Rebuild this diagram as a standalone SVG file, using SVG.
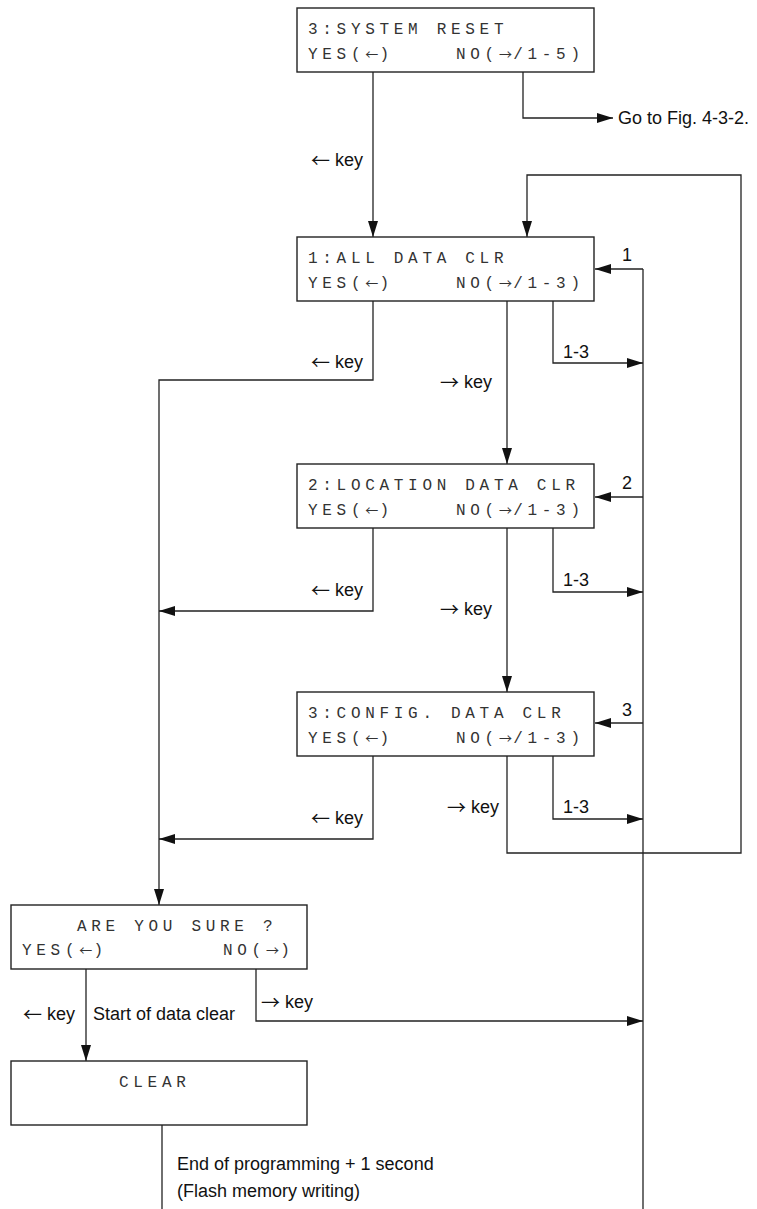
<svg xmlns="http://www.w3.org/2000/svg" width="757" height="1209" viewBox="0 0 757 1209">
<style>
.box{fill:#fff;stroke:#222;stroke-width:1.4}
.mono{font-family:"Liberation Mono","DejaVu Sans Mono",monospace;font-size:16px;letter-spacing:4.7px;fill:#333}
.ma{font-family:"Noto Sans CJK JP","DejaVu Sans Mono",monospace;font-size:13px;letter-spacing:1.3px}
.lbl{font-family:"Liberation Sans",Arial,sans-serif;font-size:18px;fill:#111}
.la{font-family:"Noto Sans CJK JP","DejaVu Sans",sans-serif;font-size:19px}
.ln{fill:none;stroke:#222;stroke-width:1.3}
.ar{marker-end:url(#ah)}
</style>
<defs>
<marker id="ah" markerUnits="userSpaceOnUse" markerWidth="16" markerHeight="10" refX="16" refY="5" orient="auto">
<path d="M0,0 L16,5 L0,10 z" fill="#111"/>
</marker>
</defs>
<rect width="757" height="1209" fill="#fff"/>

<g id="connectors">
<path class="ln ar" d="M373,72 V237"/>
<path class="ln ar" d="M523,72 V118 H613"/>
<path class="ln ar" d="M507,756 V853 H741 V175 H527 V237"/>
<path class="ln" d="M643,269 V1209"/>
<path class="ln ar" d="M643,269 H595"/>
<path class="ln ar" d="M643,497 H595"/>
<path class="ln ar" d="M643,723 H595"/>
<path class="ln ar" d="M553,301 V363 H643"/>
<path class="ln ar" d="M553,528 V592 H643"/>
<path class="ln ar" d="M553,756 V819 H643"/>
<path class="ln ar" d="M507,301 V464"/>
<path class="ln ar" d="M507,528 V692"/>
<path class="ln ar" d="M373,301 V380 H159 V905"/>
<path class="ln ar" d="M373,528 V611 H159"/>
<path class="ln ar" d="M373,756 V839 H159"/>
<path class="ln ar" d="M86,969 V1061"/>
<path class="ln ar" d="M256,969 V1021 H643"/>
<path class="ln" d="M162,1125 V1209"/>
</g>

<g id="labels">
<text class="lbl" x="363" y="166" text-anchor="end"><tspan class="la" dy="2">←</tspan><tspan dy="-2"> key</tspan></text>
<text class="lbl" x="618" y="124">Go to Fig. 4-3-2.</text>
<text class="lbl" x="622" y="261">1</text>
<text class="lbl" x="622" y="489">2</text>
<text class="lbl" x="622" y="716">3</text>
<text class="lbl" x="563" y="358">1-3</text>
<text class="lbl" x="563" y="586">1-3</text>
<text class="lbl" x="563" y="813">1-3</text>
<text class="lbl" x="363" y="368" text-anchor="end"><tspan class="la" dy="2">←</tspan><tspan dy="-2"> key</tspan></text>
<text class="lbl" x="363" y="596" text-anchor="end"><tspan class="la" dy="2">←</tspan><tspan dy="-2"> key</tspan></text>
<text class="lbl" x="363" y="824" text-anchor="end"><tspan class="la" dy="2">←</tspan><tspan dy="-2"> key</tspan></text>
<text class="lbl" x="440" y="388"><tspan class="la" dy="2">→</tspan><tspan dy="-2"> key</tspan></text>
<text class="lbl" x="440" y="615"><tspan class="la" dy="2">→</tspan><tspan dy="-2"> key</tspan></text>
<text class="lbl" x="447" y="813"><tspan class="la" dy="2">→</tspan><tspan dy="-2"> key</tspan></text>
<text class="lbl" x="23" y="1020"><tspan class="la" dy="2">←</tspan><tspan dy="-2"> key</tspan></text>
<text class="lbl" x="93" y="1020">Start of data clear</text>
<text class="lbl" x="261" y="1008"><tspan class="la" dy="2">→</tspan><tspan dy="-2"> key</tspan></text>
<text class="lbl" x="177" y="1170">End of programming + 1 second</text>
<text class="lbl" x="177" y="1197">(Flash memory writing)</text>
</g>

<g id="node-system-reset">
<rect class="box" x="297" y="8" width="297" height="64"/>
<text class="mono" x="308" y="34">3:SYSTEM RESET</text>
<text class="mono" x="308" y="59">YES(<tspan class="ma">←</tspan>)</text>
<text class="mono" x="456" y="59">NO(<tspan class="ma">→</tspan>/1-5)</text>
</g>

<g id="node-all-data-clr">
<rect class="box" x="297" y="237" width="297" height="64"/>
<text class="mono" x="308" y="263">1:ALL DATA CLR</text>
<text class="mono" x="308" y="288">YES(<tspan class="ma">←</tspan>)</text>
<text class="mono" x="456" y="288">NO(<tspan class="ma">→</tspan>/1-3)</text>
</g>

<g id="node-location-data-clr">
<rect class="box" x="297" y="464" width="297" height="64"/>
<text class="mono" x="308" y="490">2:LOCATION DATA CLR</text>
<text class="mono" x="308" y="515">YES(<tspan class="ma">←</tspan>)</text>
<text class="mono" x="456" y="515">NO(<tspan class="ma">→</tspan>/1-3)</text>
</g>

<g id="node-config-data-clr">
<rect class="box" x="297" y="692" width="297" height="64"/>
<text class="mono" x="308" y="718">3:CONFIG. DATA CLR</text>
<text class="mono" x="308" y="743">YES(<tspan class="ma">←</tspan>)</text>
<text class="mono" x="456" y="743">NO(<tspan class="ma">→</tspan>/1-3)</text>
</g>

<g id="node-are-you-sure">
<rect class="box" x="11" y="905" width="296" height="64"/>
<text class="mono" x="77" y="931">ARE YOU SURE ?</text>
<text class="mono" x="22" y="955">YES(<tspan class="ma">←</tspan>)</text>
<text class="mono" x="223" y="955">NO(<tspan class="ma">→</tspan>)</text>
</g>

<g id="node-clear">
<rect class="box" x="11" y="1061" width="296" height="64"/>
<text class="mono" x="119" y="1087">CLEAR</text>
</g>
</svg>
